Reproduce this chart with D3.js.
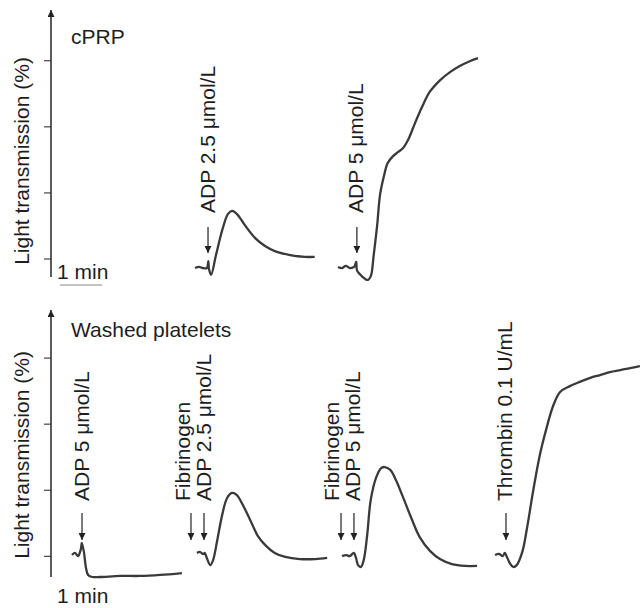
<!DOCTYPE html>
<html>
<head>
<meta charset="utf-8">
<script src="https://cdn.jsdelivr.net/npm/d3@7"></script>
<style>
body { margin: 0; background: #fff; }
text { font-family: "Liberation Sans", Arial, sans-serif; fill: #1e1e1e; }
</style>
</head>
<body>
<div id="chart"></div>
<script>
// aggregometry traces: time since start of trace (s) and light transmission (%)
const cprpAdp25T = [0, 6, 11, 17, 19, 20, 23, 30, 39, 47, 53, 60, 71, 86, 100, 114, 136, 157, 171];
const cprpAdp25V = [-3.6, -3.2, -3.6, -3.6, -1.0, -4.0, -6.2, 1.3, 10.8, 16.8, 18.0, 16.8, 12.7, 7.7, 4.7, 2.8, 1.3, 0.6, 0.6];

const cprpAdp5T = [0, 6, 11, 17, 23, 26, 27, 31, 39, 43, 47, 51, 56, 60, 66, 71, 79, 86, 93, 100, 110, 120, 131, 146, 160, 174, 189, 200];
const cprpAdp5V = [-3.2, -3.6, -2.8, -3.6, -3.2, -1.3, -4.4, -5.9, -7.8, -8.1, -6.6, 1.3, 12.7, 24, 31.6, 36.1, 38.8, 40.3, 41.8, 44.8, 51.2, 57.3, 63, 67.5, 70.5, 72.8, 74.7, 75.8];

const washAdp5T = [0, 4, 9, 11, 13, 14, 17, 20, 23, 29, 40, 69, 97, 126, 157];
const washAdp5V = [0.3, 1.1, -0.1, 1.1, 3.0, 4.9, 1.5, -4.6, -7.2, -8, -8, -7.6, -7.6, -7.2, -6.5];

const washFibAdp25T = [0, 4, 9, 11, 14, 19, 23, 29, 36, 43, 50, 57, 64, 76, 87, 99, 111, 126, 147, 169, 186];
const washFibAdp25V = [1.1, 1.5, 0.7, 1.1, -0.8, -3.5, -1.6, 6.0, 15.5, 21.9, 23.8, 23.0, 20.0, 13.6, 7.5, 3.7, 1.1, -0.4, -1.2, -1.2, -0.8];

const washFibAdp5T = [0, 6, 11, 17, 20, 23, 27, 31, 36, 41, 49, 56, 61, 69, 77, 87, 99, 111, 126, 140, 157, 176, 193];
const washFibAdp5V = [-0.1, 0.3, -0.1, 1.1, -0.8, -3.5, -4.2, -1.6, 7.9, 21.1, 29.8, 33.2, 33.6, 32.5, 28.7, 22.3, 14.3, 7.1, 1.8, -1.2, -3.1, -3.8, -3.8];

const washThrT = [0, 6, 11, 14, 17, 21, 26, 31, 39, 46, 54, 64, 74, 83, 93, 107, 121, 136, 150, 164, 179, 193, 207];
const washThrV = [0.3, 0.7, -0.1, 1.1, -0.4, -2.7, -4.2, -3.5, 1.5, 10.9, 23.8, 38.1, 48.7, 56.7, 62.0, 64.2, 65.8, 67.3, 68.4, 69.5, 70.3, 71.0, 71.8];

// agonist additions: time (s) from trace start, with label lines
const cprpAdp25Add = [18.6];
const cprpAdp5Add = [27];
const washAdp5Add = [14.3];
const washFibAdp25Add = [-8.6, 10];
const washFibAdp5Add = [-1.4, 17.1];
const washThrAdd = [15.7];

const cprpAdp25Lbl = ['ADP 2.5 μmol/L'];
const cprpAdp5Lbl = ['ADP 5 μmol/L'];
const washAdp5Lbl = ['ADP 5 μmol/L'];
const washFibAdp25Lbl = ['Fibrinogen', 'ADP 2.5 μmol/L'];
const washFibAdp5Lbl = ['Fibrinogen', 'ADP 5 μmol/L'];
const washThrLbl = ['Thrombin 0.1 U/mL'];

const tickVals = [0, 25, 50, 75];
const panelTitles = ['cPRP', 'Washed platelets'];
const scaleLabel = '1 min';
const yTitle = 'Light transmission (%)';

const width = 640, height = 608;
const pxPerMin = 42;
const axisX = 51;
const fs = '21px';

const panels = [
	{title: panelTitles[0], yBottom: 277, yTop: 10, domain: [-7, 94], titleY: 44, minY: 279, bar: true,
		yTitleMid: 161, arrowTop: 227, arrowTip: 253, labelY: 213,
		traces: [
			{x0: 195, t: cprpAdp25T, v: cprpAdp25V, add: cprpAdp25Add, lbl: cprpAdp25Lbl},
			{x0: 338, t: cprpAdp5T, v: cprpAdp5V, add: cprpAdp5Add, lbl: cprpAdp5Lbl}
		]},
	{title: panelTitles[1], yBottom: 577, yTop: 310, domain: [-8, 93], titleY: 337, minY: 603, bar: false,
		yTitleMid: 455, arrowTop: 513, arrowTip: 540, labelY: 501,
		traces: [
			{x0: 72, t: washAdp5T, v: washAdp5V, add: washAdp5Add, lbl: washAdp5Lbl},
			{x0: 197, t: washFibAdp25T, v: washFibAdp25V, add: washFibAdp25Add, lbl: washFibAdp25Lbl},
			{x0: 342, t: washFibAdp5T, v: washFibAdp5V, add: washFibAdp5Add, lbl: washFibAdp5Lbl},
			{x0: 495, t: washThrT, v: washThrV, add: washThrAdd, lbl: washThrLbl}
		]}
];

const svg = d3.select('#chart').append('svg')
	.attr('width', width)
	.attr('height', height);

const defs = svg.append('defs');
defs.append('marker')
	.attr('id', 'head')
	.attr('viewBox', '0 0 10 10')
	.attr('refX', 10).attr('refY', 5)
	.attr('markerWidth', 7).attr('markerHeight', 7)
	.attr('markerUnits', 'userSpaceOnUse')
	.attr('orient', 'auto')
	.append('path')
	.attr('d', 'M0,0L10,5L0,10Z')
	.attr('fill', '#222');

panels.forEach(p => {
	const y = d3.scaleLinear().domain(p.domain).range([p.yBottom, p.yTop]);

	// y axis ticks (no labels)
	svg.append('g')
		.attr('transform', `translate(${axisX},0)`)
		.call(d3.axisLeft(y).tickValues(tickVals).tickSize(7).tickFormat(''))
		.call(g => g.select('.domain').remove())
		.call(g => g.selectAll('line').attr('stroke', '#444').attr('stroke-width', 1.2));

	// axis line with arrow head
	svg.append('line')
		.attr('x1', axisX).attr('x2', axisX)
		.attr('y1', p.yBottom).attr('y2', p.yTop)
		.attr('stroke', '#333').attr('stroke-width', 1.6)
		.attr('marker-end', 'url(#head)');

	svg.append('text')
		.attr('transform', `translate(29,${p.yTitleMid}) rotate(-90)`)
		.attr('text-anchor', 'middle')
		.style('font-size', fs)
		.text(yTitle);

	svg.append('text')
		.attr('x', 71).attr('y', p.titleY)
		.style('font-size', fs)
		.text(p.title);

	svg.append('text')
		.attr('x', 57).attr('y', p.minY)
		.style('font-size', fs)
		.text(scaleLabel);

	if (p.bar) {
		const xs = d3.scaleLinear().domain([0, 1]).range([60, 60 + pxPerMin]);
		svg.append('line')
			.attr('x1', xs(0)).attr('x2', xs(1))
			.attr('y1', 285).attr('y2', 285)
			.attr('stroke', '#888').attr('stroke-width', 1.2);
	}

	p.traces.forEach(tr => {
		const x = d3.scaleLinear().domain([0, 60]).range([tr.x0, tr.x0 + pxPerMin]);
		const pts = tr.t.map((t, i) => [t, tr.v[i]]);

		const line = d3.line()
			.x(d => x(d[0]))
			.y(d => y(d[1]))
			.curve(d3.curveCatmullRom.alpha(0.5));

		svg.append('path')
			.datum(pts)
			.attr('d', line)
			.attr('fill', 'none')
			.attr('stroke', '#3a3a3a')
			.attr('stroke-width', 2.3)
			.attr('stroke-linejoin', 'round');

		// addition arrows
		tr.add.forEach(a => {
			svg.append('line')
				.attr('x1', x(a)).attr('x2', x(a))
				.attr('y1', p.arrowTop).attr('y2', p.arrowTip)
				.attr('stroke', '#222').attr('stroke-width', 1.2)
				.attr('marker-end', 'url(#head)');
		});

		// rotated labels, last line sits next to the last arrow
		const lastX = x(tr.add[tr.add.length - 1]) + 6.5;
		const n = tr.lbl.length;
		tr.lbl.forEach((s, i) => {
			svg.append('text')
				.attr('transform', `translate(${lastX - (n - 1 - i) * 21},${p.labelY}) rotate(-90)`)
				.style('font-size', fs)
				.text(s);
		});
	});
});
</script>
</body>
</html>
